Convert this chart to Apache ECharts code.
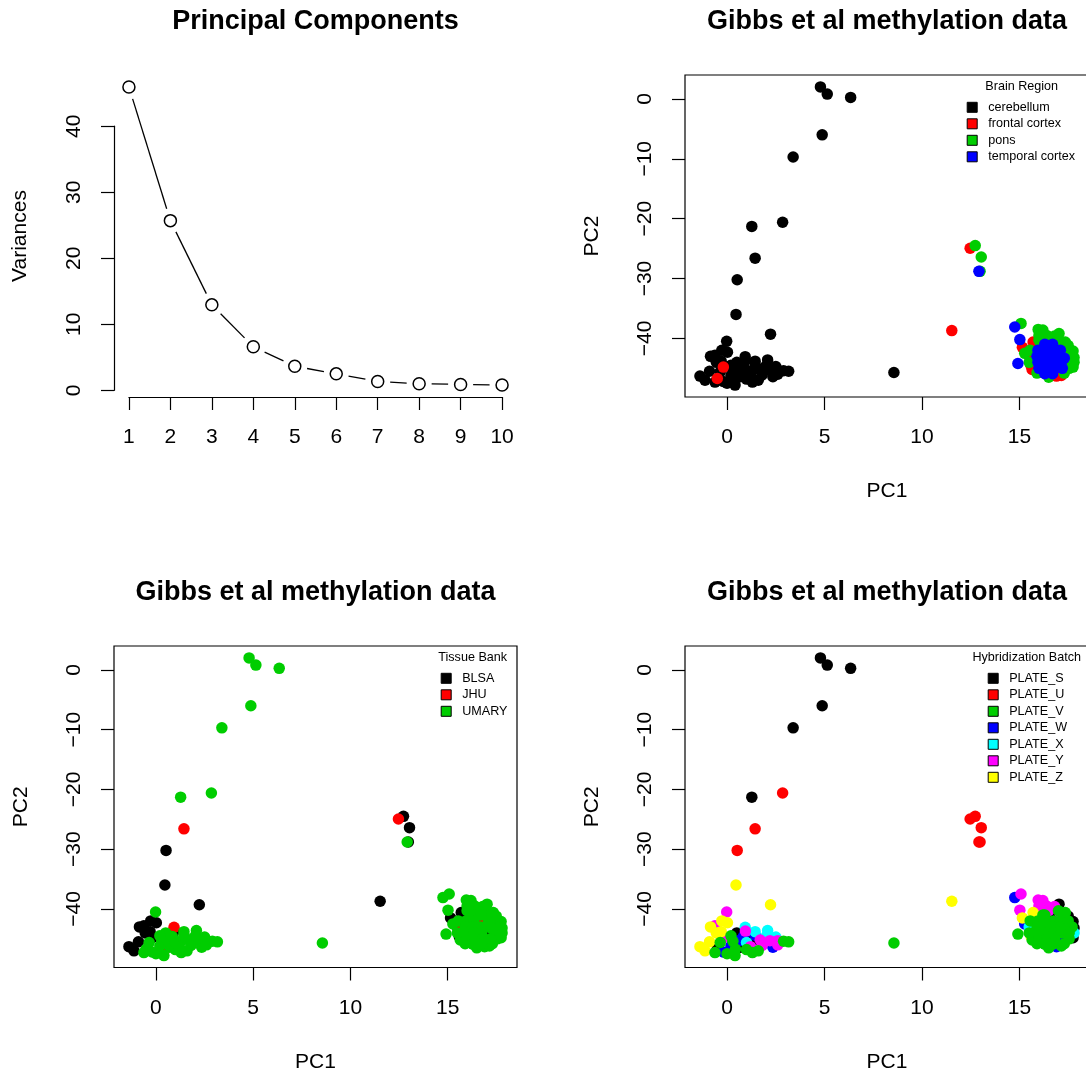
<!DOCTYPE html>
<html><head><meta charset="utf-8">
<script src="https://cdn.jsdelivr.net/npm/echarts@6/dist/echarts.min.js"></script>
<style>html,body{margin:0;padding:0;background:#fff}#c{width:1086px;height:1078px}</style>
</head><body><div id="c"></div>
<script>
// ---------- data ----------
const pcIndex = [1,2,3,4,5,6,7,8,9,10];
const variances = [45.95, 25.7, 12.95, 6.6, 3.65, 2.5, 1.35, 1.0, 0.9, 0.8];

const regionNames = ['cerebellum','frontal cortex','pons','temporal cortex'];
const bankNames = ['BLSA','JHU','UMARY'];
const batchNames = ['PLATE_S','PLATE_U','PLATE_V','PLATE_W','PLATE_X','PLATE_Y','PLATE_Z'];

const xTicks = [0,5,10,15];
const yTicks = [-40,-30,-20,-10,0];

// sample scores (PC1, PC2) and their annotations (index into the name lists)
const pc1 = [
  4.79,5.14,6.34,4.88,3.39,1.27,2.85,1.44,0.52,0.46,2.23,8.56,
  12.47,12.73,13.04,12.98,12.92,11.53,
  -1.39,-1.13,-0.62,-0.02,-0.27,0.02,-0.85,-0.62,-0.55,-0.3,-0.19,-0.5,0.41,0.5,0.7,1.32,0.93,0.94,0.43,1.44,2.08,1.44,0.84,2.35,1.8,2.2,2.6,3.16,-0.2,0.0,1.3,0.3,0.2,1.0,1.6,-0.35,0.6,1.0,1.7,2.9,2.0,2.5,-0.9,0.2,1.2,2.6,
  14.76,15.08,15.02,14.92,15.96,16.2,17.03,15.15,15.7,15.27,15.6,16.9,17.15,15.7,15.65,15.5,
  16.0,16.4,16.8,16.0,16.5,17.0,17.35,17.1,17.5,15.55,17.5,17.75,17.7,17.8,15.5,17.55,17.8,17.55,17.75,15.9,17.3,16.5,16.2,
  16.3,16.7,15.95,16.35,16.75,17.1,15.9,16.3,16.7,17.1,17.3,15.95,16.35,16.75,17.15,16.0,16.4,16.8,17.2,16.3,16.7
];
const pc2 = [
  2.0,0.8,0.25,-6.0,-9.7,-21.3,-20.6,-26.6,-30.2,-36.0,-39.3,-45.7,
  -24.95,-24.5,-26.4,-28.8,-28.8,-38.7,
  -46.3,-47.0,-47.3,-40.5,-42.0,-42.3,-43.0,-42.8,-44.0,-43.8,-44.8,-46.7,-47.8,-44.0,-46.4,-45.3,-43.05,-43.7,-46.7,-43.8,-43.6,-44.4,-44.6,-46.4,-46.1,-45.3,-45.3,-45.5,-47.2,-47.5,-47.3,-45.4,-46.2,-46.8,-47.0,-45.6,-45.3,-45.6,-45.2,-45.4,-44.6,-44.7,-45.5,-44.5,-46.3,-46.0,
  -38.1,-37.5,-40.2,-44.2,-38.5,-38.6,-39.2,-41.5,-40.6,-42.5,-44.6,-46.3,-46.2,-43.5,-45.2,-43.0,
  -39.5,-39.5,-39.6,-40.3,-40.3,-40.3,-40.6,-41.2,-41.2,-42.0,-42.0,-42.1,-43.0,-43.2,-44.0,-44.0,-44.0,-45.0,-44.8,-45.8,-45.8,-46.5,-41.0,
  -41.0,-41.0,-42.0,-42.0,-42.0,-42.0,-43.0,-43.0,-43.0,-43.0,-43.3,-44.0,-44.0,-44.0,-44.0,-45.0,-45.0,-45.0,-45.0,-45.9,-45.9
];
const region = [
  0,0,0,0,0,0,0,0,0,0,0,0,
  1,2,2,2,3,1,
  0,0,0,0,0,0,0,0,0,0,1,1,0,0,0,0,0,0,0,0,0,0,0,0,0,0,0,0,0,0,0,0,0,0,0,0,0,0,0,0,0,0,0,0,0,0,
  3,2,3,3,2,2,2,1,1,2,1,1,1,1,1,1,
  2,2,2,2,2,2,2,2,2,2,2,2,2,2,2,2,2,2,2,2,2,2,2,
  3,3,3,3,3,3,3,3,3,3,3,3,3,3,3,3,3,3,3,3,3
];
const bank = [
  2,2,2,2,2,2,2,1,0,0,0,2,
  1,0,0,0,2,0,
  0,0,2,2,0,0,0,0,0,0,0,2,2,2,2,2,1,0,1,2,2,2,2,2,2,2,2,2,2,2,2,2,2,2,2,2,2,2,2,2,2,2,0,2,2,2,
  2,2,2,2,2,2,2,0,0,2,0,2,2,1,2,0,
  2,2,2,2,2,2,2,2,2,2,2,2,2,2,2,2,2,2,2,2,2,2,2,
  2,2,2,2,1,2,2,2,2,2,2,2,2,2,0,2,2,2,2,2,2
];
const batch = [
  0,0,0,0,0,0,1,1,1,6,6,2,
  1,1,1,1,1,6,
  6,6,2,5,6,6,6,5,6,6,5,0,2,0,0,0,4,5,2,4,4,3,3,3,5,5,5,2,3,2,2,2,3,2,2,2,3,4,5,2,4,4,6,2,5,5,
  3,5,5,2,5,5,0,6,6,3,6,3,2,4,2,4,
  5,5,5,5,5,2,2,5,0,2,2,0,2,0,2,2,4,2,0,2,2,2,2,
  2,0,2,2,2,2,2,2,2,2,2,2,2,2,2,2,2,2,3,2,2
];

// ---------- style / layout ----------
const FONT = 'Liberation Sans';
const palette = ['#000000','#FF0000','#00CD00','#0000FF','#00FFFF','#FF00FF','#FFFF00'];
const boxes = [
  {l:114, t:75,  w:403, h:322},
  {l:685, t:75,  w:404, h:322},
  {l:114, t:646, w:403, h:321.5},
  {l:685, t:646, w:404, h:321.5}
];
const AX = 21, TITLE = 27, LEG = 12.6;
const SEG_GAP = 12.5; // R type="b": segments stop short of the points

function ext(a){const mn=Math.min(...a),mx=Math.max(...a),d=(mx-mn)*0.04;return [mn-d,mx+d];}
const sxr = ext(pc1), syr = ext(pc2);
const txr = ext(pcIndex), tyr = ext(variances);
const minus = v => v < 0 ? '\u2212' + Math.abs(v) : String(v);

const b0 = boxes[0];
const px = v => b0.l + (v - txr[0]) / (txr[1] - txr[0]) * b0.w;
const py = v => b0.t + b0.h - (v - tyr[0]) / (tyr[1] - tyr[0]) * b0.h;

const grids = boxes.map((b,i) => ({
  left: b.l, top: b.t, width: b.w, height: b.h, outerBoundsMode: 'none', containLabel: false,
  show: i > 0, borderColor: '#000', borderWidth: 1.2, backgroundColor: 'transparent'
}));
// axis frame for the scree plot (R draws the axes only between first and last tick)
grids.push({left: px(1), top: py(40), width: px(10) - px(1), height: py(0) - py(40),
  show: false, outerBoundsMode: 'none', containLabel: false});

const tickStyle = {show:true, inside:false, length:13, lineStyle:{color:'#000', width:1.2}};
const labStyle = {color:'#000', fontSize:AX, fontFamily:FONT};
const nameStyle = {color:'#000', fontSize:AX, fontFamily:FONT};
const noLine = {show:false, onZero:false};

const xAxes = [], yAxes = [];
// grid 0: scree data axes (only the y title is shown, centred on the plot region)
xAxes.push({gridIndex:0, type:'value', min:txr[0], max:txr[1], show:false});
yAxes.push({gridIndex:0, type:'value', min:tyr[0], max:tyr[1],
  axisLine:noLine, axisTick:{show:false}, axisLabel:{show:false}, splitLine:{show:false},
  name:'Variances', nameLocation:'middle', nameGap:83, nameTextStyle:nameStyle});
// grids 1..3: scatter panels
for (let g = 1; g <= 3; g++) {
  xAxes.push({gridIndex:g, type:'value', min:sxr[0], max:sxr[1],
    axisLine:noLine, splitLine:{show:false},
    axisTick:Object.assign({customValues:xTicks}, tickStyle),
    axisLabel:Object.assign({customValues:xTicks, margin:30, formatter:minus}, labStyle),
    name:'PC1', nameLocation:'middle', nameGap:84, nameTextStyle:nameStyle});
  yAxes.push({gridIndex:g, type:'value', min:syr[0], max:syr[1],
    axisLine:noLine, splitLine:{show:false},
    axisTick:Object.assign({customValues:yTicks}, tickStyle),
    axisLabel:Object.assign({customValues:yTicks, margin:29, rotate:90, formatter:minus}, labStyle),
    name:'PC2', nameLocation:'middle', nameGap:82, nameTextStyle:nameStyle});
}
// grid 4: scree visible axes
xAxes.push({gridIndex:4, type:'value', min:1, max:10, interval:1,
  offset: (b0.t + b0.h) - py(0),
  axisLine:{show:true, onZero:false, lineStyle:{color:'#000', width:1.2}}, splitLine:{show:false},
  axisTick:tickStyle, axisLabel:Object.assign({margin:30}, labStyle)});
yAxes.push({gridIndex:4, type:'value', min:0, max:40, interval:10,
  offset: px(1) - b0.l,
  axisLine:{show:true, onZero:false, lineStyle:{color:'#000', width:1.2}}, splitLine:{show:false},
  axisTick:tickStyle, axisLabel:Object.assign({margin:29, rotate:90}, labStyle)});

const idx = pc1.map((_, i) => i);
const pts = (arr, k) => idx.filter(i => arr[i] === k).map(i => [pc1[i], pc2[i]]);

const series = [];
// scree line segments (shortened at both ends like R's type="b")
series.push({type:'custom', xAxisIndex:0, yAxisIndex:0, silent:true,
  data: pcIndex.slice(0, -1).map((c, i) => [c, variances[i], pcIndex[i+1], variances[i+1]]),
  encode:{x:[0,2], y:[1,3]},
  renderItem: function (params, api) {
    const a = api.coord([api.value(0), api.value(1)]);
    const b = api.coord([api.value(2), api.value(3)]);
    const dx = b[0] - a[0], dy = b[1] - a[1], len = Math.sqrt(dx*dx + dy*dy);
    if (len <= 2 * SEG_GAP) return null;
    const ux = dx / len, uy = dy / len;
    return {type:'line', shape:{x1:a[0] + ux*SEG_GAP, y1:a[1] + uy*SEG_GAP,
      x2:b[0] - ux*SEG_GAP, y2:b[1] - uy*SEG_GAP},
      style:{stroke:'#000', lineWidth:1.3}};
  }, z:2});
series.push({type:'scatter', xAxisIndex:0, yAxisIndex:0, silent:true,
  data: pcIndex.map((c, i) => [c, variances[i]]),
  symbol:'circle', symbolSize:12,
  itemStyle:{color:'#fff', borderColor:'#000', borderWidth:1.5, opacity:1}, z:3});

function addPanel(g, names, arr, zTop) {
  names.forEach((n, k) => series.push({
    type:'scatter', name:n, xAxisIndex:g, yAxisIndex:g, silent:true,
    data: pts(arr, k), symbol:'circle', symbolSize:11.5,
    itemStyle:{color:palette[k], borderWidth:0, opacity:1},
    z: (zTop === k) ? 4 : 2 + k * 0.01
  }));
}
addPanel(1, regionNames, region, -1);
addPanel(2, bankNames, bank, -1);
addPanel(3, batchNames, batch, 2);

function legend(names, iconCenterX, firstRowY) {
  return {data: names.map(n => ({name:n, icon:'rect'})), orient:'vertical',
    left: iconCenterX - 5, top: firstRowY - 7, itemWidth:10, itemHeight:10, itemGap:2.5,
    padding:0, selectedMode:false,
    itemStyle:{borderColor:'#000', borderWidth:1, opacity:1},
    textStyle:{fontFamily:FONT, fontSize:LEG, color:'#000', lineHeight:14, padding:[0,0,0,6]}};
}

function txt(s, x, y, size, bold) {
  return {type:'text', x:x, y:y, silent:true,
    style:{text:s, fill:'#000', fontFamily:FONT, fontSize:size, fontWeight: bold ? 'bold' : 'normal',
      align:'center', verticalAlign:'middle'}};
}

const option = {
  animation:false,
  backgroundColor:'#fff',
  textStyle:{fontFamily:FONT},
  grid: grids, xAxis: xAxes, yAxis: yAxes, series: series,
  legend: [
    legend(regionNames, 971.7, 107.3),
    legend(bankNames, 445.7, 678.3),
    legend(batchNames, 992.7, 678.3)
  ],
  graphic: [
    txt('Principal Components', 315.5, 22, TITLE, true),
    txt('Gibbs et al methylation data', 887, 22, TITLE, true),
    txt('Gibbs et al methylation data', 315.5, 593, TITLE, true),
    txt('Gibbs et al methylation data', 887, 593, TITLE, true),
    txt('Brain Region', 1021.7, 86.7, LEG, false),
    txt('Tissue Bank', 472.7, 657.3, LEG, false),
    txt('Hybridization Batch', 1026.7, 657.3, LEG, false)
  ]
};
echarts.init(document.getElementById('c'), null, {renderer:'canvas'}).setOption(option);
</script></body></html>
